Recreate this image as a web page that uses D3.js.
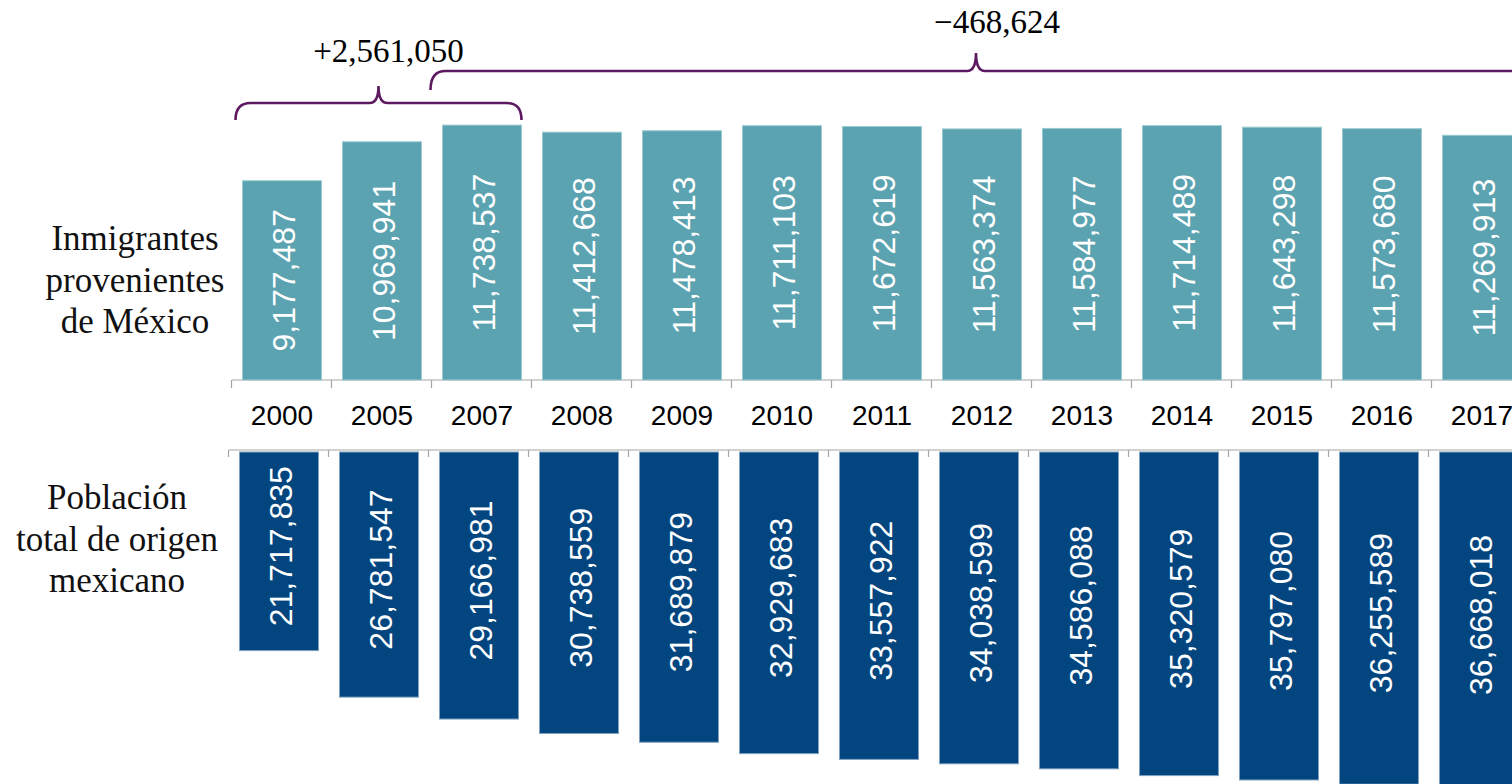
<!DOCTYPE html>
<html><head><meta charset="utf-8">
<script src="https://cdn.jsdelivr.net/npm/d3@7"></script>
<style>html,body{margin:0;padding:0;background:#fff;overflow:hidden}</style>
</head><body><svg id="c" width="1512" height="784"></svg>
<script>
const years = ["2000","2005","2007","2008","2009","2010","2011","2012","2013","2014","2015","2016","2017"];
const inmigrantes = [9177487,10969941,11738537,11412668,11478413,11711103,11672619,11563374,11584977,11714489,11643298,11573680,11269913];
const poblacion = [21717835,26781547,29166981,30738559,31689879,32929683,33557922,34038599,34586088,35320579,35797080,36255589,36668018];
const seriesLabels = [["Inmigrantes","provenientes","de México"],["Población","total de origen","mexicano"]];
const annotations = [{from:"2000", to:"2007", text:"+2,561,050"},{from:"2007", to:"2017", text:"\u2212468,624"}];

const svg = d3.select("#c");
const fmt = d3.format(",");
const step = 100;
const xTop = d3.scaleBand().domain(years).range([232, 232 + step*years.length]).paddingInner(0.21).paddingOuter(0.105).align(0.5);
const xBot = d3.scaleBand().domain(years).range([229, 229 + step*years.length]).paddingInner(0.21).paddingOuter(0.105).align(0.5);
const yTop = d3.scaleLinear().domain([0, 17.5e6]).range([380, 0]);
const yBot = d3.scaleLinear().domain([0, 40e6]).range([451, 451 + 367.6]);

const teal = "#5ba3b0", navy = "#03467f", grey = "#a6a6a6";

// top axis
const axT = svg.append("g");
axT.append("line").attr("x1",232).attr("x2",1512).attr("y1",380).attr("y2",380).attr("stroke",grey).attr("stroke-width",1.2);
axT.selectAll("line.t").data(years).join("line").attr("class","t")
  .attr("x1",d=>xTop(d)-xTop.step()*xTop.paddingInner()/2 - 0.5).attr("x2",d=>xTop(d)-xTop.step()*xTop.paddingInner()/2 - 0.5)
  .attr("y1",380).attr("y2",388).attr("stroke",grey).attr("stroke-width",1.2);
// bottom axis
const axB = svg.append("g");
axB.append("line").attr("x1",229).attr("x2",1512).attr("y1",450).attr("y2",450).attr("stroke",grey).attr("stroke-width",1.2);
axB.selectAll("line.t").data(years).join("line").attr("class","t")
  .attr("x1",d=>xBot(d)-xBot.step()*xBot.paddingInner()/2 - 0.5).attr("x2",d=>xBot(d)-xBot.step()*xBot.paddingInner()/2 - 0.5)
  .attr("y1",450).attr("y2",457).attr("stroke",grey).attr("stroke-width",1.2);

// top bars
svg.append("g").selectAll("rect").data(years).join("rect")
  .attr("x",d=>xTop(d)).attr("width",xTop.bandwidth())
  .attr("y",(d,i)=>yTop(inmigrantes[i])).attr("height",(d,i)=>380-yTop(inmigrantes[i]))
  .attr("fill",teal).attr("stroke","#9ccad2").attr("stroke-width",1);
// bottom bars
svg.append("g").selectAll("rect").data(years).join("rect")
  .attr("x",d=>xBot(d)).attr("width",xBot.bandwidth())
  .attr("y",452).attr("height",(d,i)=>yBot(poblacion[i])-452)
  .attr("fill",navy).attr("stroke","#7fa0c0").attr("stroke-width",1);

// value labels
svg.append("g").selectAll("text").data(years).join("text")
  .attr("transform",(d,i)=>`translate(${xTop(d)+xTop.bandwidth()/2+1},${(yTop(inmigrantes[i])+380)/2}) rotate(-90)`)
  .attr("text-anchor","middle").attr("dy","0.36em")
  .attr("font-family","Liberation Sans, Arial, sans-serif").attr("font-size",32).attr("fill","#fff")
  .text((d,i)=>fmt(inmigrantes[i]));
svg.append("g").selectAll("text").data(years).join("text")
  .attr("transform",(d,i)=>`translate(${xBot(d)+xBot.bandwidth()/2+1},${(yBot(poblacion[i])+452)/2-5}) rotate(-90)`)
  .attr("text-anchor","middle").attr("dy","0.36em")
  .attr("font-family","Liberation Sans, Arial, sans-serif").attr("font-size",32).attr("fill","#fff")
  .text((d,i)=>fmt(poblacion[i]));

// year labels
svg.append("g").selectAll("text").data(years).join("text")
  .attr("x",d=>xTop(d)+xTop.bandwidth()/2).attr("y",425)
  .attr("text-anchor","middle").attr("font-family","Liberation Sans, Arial, sans-serif").attr("font-size",28).attr("fill","#000")
  .text(d=>d);

// series labels
const lblPos = [{x:135, y:250},{x:117, y:509}];
seriesLabels.forEach((lines,k)=>{
  svg.append("g").selectAll("text").data(lines).join("text")
    .attr("x",lblPos[k].x).attr("y",(d,i)=>lblPos[k].y+i*41.5)
    .attr("text-anchor","middle").attr("font-family","Liberation Serif, Times New Roman, serif").attr("font-size",35).attr("fill","#111")
    .text(d=>d);
});

// braces
function brace(x0,x1,yEnd,yH,yTip,tipX){
  const r = Math.min(15, Math.abs(yEnd-yH));
  const r2 = 9;
  return `M${x0},${yEnd} Q${x0},${yH} ${x0+r},${yH} L${tipX-r2},${yH} Q${tipX},${yH} ${tipX},${yTip} Q${tipX},${yH} ${tipX+r2},${yH} L${x1-r},${yH} Q${x1},${yH} ${x1},${yEnd}`;
}
const purple = "#5e1a60";
const b1x0 = xTop(annotations[0].from)-7, b1x1 = xTop(annotations[0].to)+xTop.bandwidth();
const b1tip = (b1x0+b1x1)/2;
svg.append("path").attr("d",brace(b1x0,b1x1,120,103,86,b1tip)).attr("fill","none").attr("stroke",purple).attr("stroke-width",2.6);
svg.append("text").attr("x",b1tip+10).attr("y",62).attr("text-anchor","middle")
  .attr("font-family","Liberation Serif, Times New Roman, serif").attr("font-size",33).attr("fill","#000").text(annotations[0].text);
const b2x0 = xTop(annotations[1].from)-12, b2x1 = xTop(annotations[1].to)+xTop.bandwidth();
const b2tip = (b2x0+b2x1)/2;
svg.append("path").attr("d",brace(b2x0,b2x1+14,90,71,53,b2tip)).attr("fill","none").attr("stroke",purple).attr("stroke-width",2.6);
svg.append("text").attr("x",b2tip+21).attr("y",33).attr("text-anchor","middle")
  .attr("font-family","Liberation Serif, Times New Roman, serif").attr("font-size",33).attr("fill","#000").text(annotations[1].text);
</script></body></html>
